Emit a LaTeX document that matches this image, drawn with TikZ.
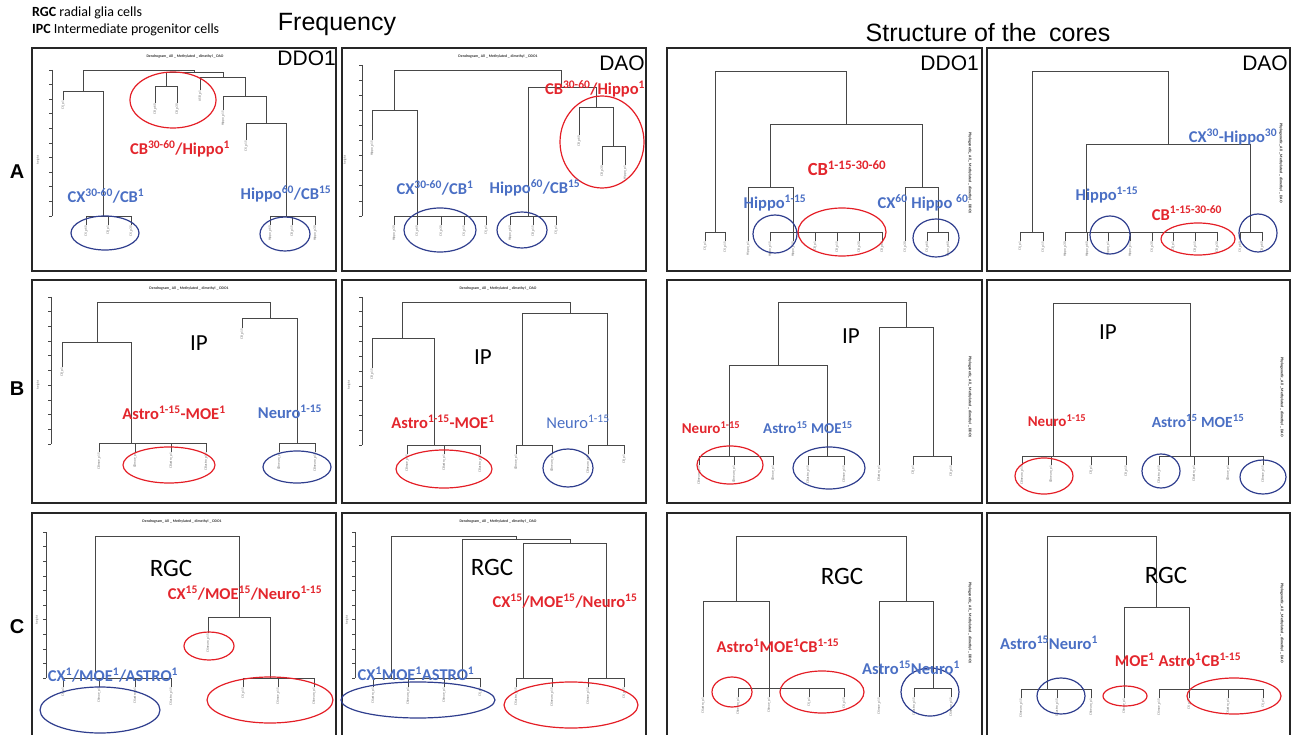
\documentclass[tikz,border=0pt]{standalone}
\usepackage{fontspec}
\setmainfont{Carlito}
\newfontfamily\arialf{Liberation Sans}
\definecolor{labred}{HTML}{E3262D}
\definecolor{labblue}{HTML}{4A6FC4}
\definecolor{ellred}{HTML}{E41E26}
\definecolor{ellblue}{HTML}{2F3E8E}
\newcommand\sps[1]{\textsuperscript{#1}}
\newcommand\stubs[2]{\foreach \xx in {#2} {\draw[dend] (\xx,#1)--(\xx,#1+9);}}
\newcommand\leaves[2]{\foreach \xx/\tt in {#2} {\node[leaflab] (lf\xx) at (\xx,#1) {\tt};}}
\tikzset{
 dend/.style={draw=black!72, line width=0.6pt},
 panel/.style={draw=black!85, line width=1.2pt},
 redell/.style={draw=ellred, line width=1.2pt},
 blueell/.style={draw=ellblue, line width=1.2pt},
 lab/.style={font=\bfseries\fontsize{16.5}{18}\selectfont, inner sep=0pt},
 rlab/.style={lab, text=labred},
 blab/.style={lab, text=labblue},
 biglab/.style={font=\fontsize{25}{28}\selectfont, inner sep=0pt},
 ttl/.style={font=\arialf\fontsize{21}{24}\selectfont, inner sep=0pt},
 rowlab/.style={font=\arialf\bfseries\fontsize{20}{22}\selectfont, inner sep=0pt},
 leaflab/.style={rotate=90, anchor=east, font=\fontsize{3.4}{4}\selectfont, text=black!60, inner sep=0.6pt},
 dtitle/.style={font=\bfseries\fontsize{3.8}{4}\selectfont, text=black!80, inner sep=0pt},
 vtitle/.style={rotate=-90, font=\bfseries\fontsize{3.9}{4}\selectfont, text=black!85, inner sep=0pt},
 htlab/.style={rotate=90, font=\fontsize{3.2}{4}\selectfont, text=black!60, inner sep=0pt},
}
\begin{document}
\begin{tikzpicture}[x=1pt,y=-1pt]
\useasboundingbox (0,0) rectangle (1291,735);
% header
\node[anchor=west, font=\fontsize{14}{16}\selectfont, inner sep=0pt] (h1) at (32,13) {\textbf{RGC} radial glia cells};
\node[anchor=west, font=\fontsize{14}{16}\selectfont, inner sep=0pt] (h2) at (32,30) {\textbf{IPC} Intermediate progenitor cells};
\node[font=\arialf\fontsize{25}{28}\selectfont, inner sep=0pt] (freq) at (337,24) {Frequency};
\node[font=\arialf\fontsize{25}{28}\selectfont, inner sep=0pt] (struct) at (988,33) {Structure of the\hspace{0.5em}cores};
\node[rowlab] (rA) at (17,172) {A};
\node[rowlab] (rB) at (17,389) {B};
\node[rowlab] (rC) at (17,627) {C};
% panel frames
\draw[panel] (32,48) rectangle (336,271);
\draw[panel] (342,48) rectangle (646,271);
\draw[panel] (667,48) rectangle (982,271);
\draw[panel] (987,48) rectangle (1290,271);
\draw[panel] (32,280) rectangle (336,503);
\draw[panel] (342,280) rectangle (646,503);
\draw[panel] (667,280) rectangle (982,503);
\draw[panel] (987,280) rectangle (1290,503);
\draw[panel] (32,740) -- (32,513) -- (336,513) -- (336,740);
\draw[panel] (342,740) -- (342,513) -- (646,513) -- (646,740);
\draw[panel] (667,740) -- (667,513) -- (982,513) -- (982,740);
\draw[panel] (987,740) -- (987,513) -- (1290,513) -- (1290,740);
% panel names
\node[ttl, anchor=east] (nA1) at (336,58) {DDO1};
\node[ttl, anchor=east] (nA2) at (645,63) {DAO};
\node[ttl, anchor=east] (nA3) at (979,63) {DDO1};
\node[ttl, anchor=east] (nA4) at (1288,63) {DAO};
% ================= A1 =================
\node[dtitle] (tA1) at (185,56) {Dendrogram\_ All \_ Methylated \_ dimethyl \_ DAO};
\draw[dend] (52,70)--(52,216);
\foreach \i in {0,...,10} {\draw[dend] (52,70+\i*14.6)--++(-3,0);}
\node[htlab] (yA1) at (38,160) {height};
\draw[dend] (83,91)--(83,70)--(194,70)--(194,72);
\draw[dend] (166,86)--(166,72)--(223,72)--(223,77);
\draw[dend] (155,103)--(155,86)--(177,86)--(177,103);
\draw[dend] (200,90)--(200,77)--(245,77)--(245,96);
\draw[dend] (223,110)--(223,96)--(266,96)--(266,123);
\draw[dend] (246,140)--(246,123)--(286,123)--(286,216);
\draw[dend] (63,100)--(63,91)--(103,91)--(103,216);
\draw[dend] (86,216)--(131,216); \stubs{216}{86,108,131}
\draw[dend] (270,216)--(315,216); \stubs{216}{270,292,315}
\node[leaflab] (lA1a) at (63,100) {CX\_p1};
\node[leaflab] (lA1b) at (155,103) {CB\_p60};
\node[leaflab] (lA1c) at (177,103) {CB\_p30};
\node[leaflab] (lA1d) at (200,90) {ASB\_p1};
\node[leaflab] (lA1e) at (223,110) {Hippo\_p15};
\node[leaflab] (lA1f) at (246,140) {CX\_p15};
\leaves{225}{86/CX\_p60,108/CB\_p1,131/CX\_p30,270/Hippo\_p60,292/CB\_p15,315/Hippo\_p30}
\draw[redell] (173,100) ellipse [x radius=43, y radius=28];
\draw[blueell] (105,233) ellipse [x radius=34, y radius=17];
\draw[blueell] (285,234) ellipse [x radius=25, y radius=17];
\node[rlab] (A1r) at (180,149) {CB\sps{30-60}/Hippo\sps{1}};
\node[blab] (A1b1) at (106,196) {CX\sps{30-60}/CB\sps{1}};
\node[blab] (A1b2) at (286,194) {Hippo\sps{60}/CB\sps{15}};
% ================= A2 =================
\node[dtitle] (tA2) at (498,56) {Dendrogram\_ All \_ Methylated \_ dimethyl \_ DDO1};
\draw[dend] (362,65)--(362,216);
\foreach \i in {0,...,10} {\draw[dend] (362,65+\i*15.1)--++(-3,0);}
\node[htlab] (yA2) at (345,160) {height};
\draw[dend] (394,110)--(394,70)--(561,70)--(561,87);
\draw[dend] (372,140)--(372,110)--(417,110)--(417,216);
\draw[dend] (394,216)--(486,216); \stubs{216}{394,417,441,464,486}
\draw[dend] (528,216)--(528,87)--(596,87)--(596,107);
\draw[dend] (510,216)--(556,216); \stubs{216}{510,533,556}
\draw[dend] (579,135)--(579,107)--(613,107)--(613,146);
\draw[dend] (602,165)--(602,146)--(625,146)--(625,165);
\node[leaflab] (lA2a) at (372,140) {Hippo\_p15};
\node[leaflab] (lA2b) at (579,135) {CB\_p60};
\node[leaflab] (lA2c) at (602,165) {CB\_p30};
\node[leaflab] (lA2d) at (625,165) {Hippo\_p1};
\leaves{225}{394/Hippo\_p30,417/CX\_p60,441/CX\_p30,464/CX\_p15,486/CX\_p1,510/Hippo\_p60,533/CB\_p15,556/CX\_p1}
\draw[redell] (602,142) ellipse [x radius=42, y radius=46];
\draw[blueell] (440,230) ellipse [x radius=36, y radius=22];
\draw[blueell] (522,230) ellipse [x radius=25, y radius=18];
\node[rlab] (A2r) at (595,89) {CB\sps{30-60}/Hippo\sps{1}};
\node[blab] (A2b1) at (435,188) {CX\sps{30-60}/CB\sps{1}};
\node[blab] (A2b2) at (535,188) {Hippo\sps{60}/CB\sps{15}};
% ================= A3 =================
\node[vtitle] (vA3) at (970,173) {Phylogenetic\_ All \_ Methylated \_ dimethyl \_ DDO1};
\draw[dend] (715,232)--(715,71)--(846,71)--(846,124);
\draw[dend] (705,232)--(725,232); \stubs{232}{705,725}
\draw[dend] (770,187)--(770,124)--(922,124)--(922,187);
\draw[dend] (748,241)--(748,187)--(793,187)--(793,232);
\draw[dend] (770,232)--(882,232); \stubs{232}{770,793,815,837,859,882}
\draw[dend] (905,241)--(905,187)--(938,187)--(938,232);
\draw[dend] (927,232)--(948,232); \stubs{232}{927,948}
\leaves{241}{705/CX\_p1,725/CX\_p15,748/Hippo\_p1,770/Hippo\_p15,793/Hippo\_p30,815/CB\_p1,837/CB\_p15,859/CB\_p30,882/CB\_p60,905/CX\_p30,927/CX\_p60,948/Hippo\_p60}
\draw[blueell] (775,234) ellipse [x radius=22, y radius=19];
\draw[redell] (842,232) ellipse [x radius=44, y radius=24];
\draw[blueell] (936,238) ellipse [x radius=23, y radius=19];
\node[rlab, font=\bfseries\fontsize{18.5}{20}\selectfont] (A3r) at (847,168) {CB\sps{1-15-30-60}};
\node[blab] (A3b1) at (775,203) {Hippo\sps{1-15}};
\node[blab] (A3b2) at (923,203) {CX\sps{60} Hippo \sps{60}};
% ================= A4 =================
\node[vtitle] (vA4) at (1281,163) {Phylogenetic\_ All \_ Methylated \_ dimethyl \_ DAO};
\draw[dend] (1032,232)--(1032,71)--(1168,71)--(1168,144);
\draw[dend] (1020,232)--(1043,232); \stubs{232}{1020,1043}
\draw[dend] (1086,232)--(1086,144)--(1250,144)--(1250,232);
\draw[dend] (1065,232)--(1217,232); \stubs{232}{1065,1087,1108,1130,1152,1173,1195,1217}
\draw[dend] (1240,232)--(1262,232); \stubs{232}{1240,1262}
\leaves{241}{1020/CX\_p1,1043/CX\_p15,1065/Hippo\_p30,1087/Hippo\_p60,1108/Hippo\_p1,1130/Hippo\_p15,1152/CX\_p30,1173/CB\_p1,1195/CB\_p15,1217/CB\_p30,1240/CX\_p60,1262/CB\_p60}
\draw[blueell] (1110,235) ellipse [x radius=20, y radius=19];
\draw[redell] (1198,239) ellipse [x radius=37, y radius=16];
\draw[blueell] (1258,233) ellipse [x radius=19, y radius=19];
\node[blab] (A4b1) at (1233,137) {CX\sps{30}-Hippo\sps{30}};
\node[blab] (A4b2) at (1107,195) {Hippo\sps{1-15}};
\node[rlab] (A4r) at (1187,213) {CB\sps{1-15-30-60}};
% ================= B1 =================
\node[dtitle] (tB1) at (189,288) {Dendrogram\_ All \_ Methylated \_ dimethyl \_ DDO1};
\draw[dend] (51,297)--(51,444);
\foreach \i in {0,...,10} {\draw[dend] (51,297+\i*14.7)--++(-3,0);}
\node[htlab] (yB1) at (38,385) {height};
\draw[dend] (97,342)--(97,302)--(270,302)--(270,318);
\draw[dend] (62,367)--(62,342)--(131,342)--(131,443);
\draw[dend] (99,443)--(206,443); \stubs{443}{99,135,171,206}
\draw[dend] (242,328)--(242,318)--(297,318)--(297,443);
\draw[dend] (279,443)--(315,443); \stubs{443}{279,315}
\node[leaflab] (lB1a) at (62,367) {CB\_p1};
\node[leaflab] (lB1b) at (242,328) {CB\_p15};
\leaves{452}{99/CBmoe\_p15,135/CBmoe\_p1,171/CBastro\_p1,206/CBastro\_p15,279/CBneuro\_p1,315/CBneuro\_p15}
\draw[redell] (169,465) ellipse [x radius=46, y radius=18];
\draw[blueell] (297,467) ellipse [x radius=34, y radius=16];
\node[biglab, font=\fontsize{23}{26}\selectfont] (B1ip) at (199,343) {IP};
\node[rlab] (B1r) at (174,413) {Astro\sps{1-15}-MOE\sps{1}};
\node[blab] (B1b) at (290,412) {Neuro\sps{1-15}};
% ================= B2 =================
\node[dtitle] (tB2) at (498,288) {Dendrogram\_ All \_ Methylated \_ dimethyl \_ DAO};
\draw[dend] (362,297)--(362,445);
\foreach \i in {0,...,10} {\draw[dend] (362,297+\i*14.8)--++(-3,0);}
\node[htlab] (yB2) at (349,385) {height};
\draw[dend] (402,338)--(402,302)--(570,302)--(570,313);
\draw[dend] (372,368)--(372,338)--(434,338)--(434,445);
\draw[dend] (407,445)--(480,445); \stubs{445}{407,444,480}
\draw[dend] (522,445)--(522,313)--(607,313)--(607,445);
\draw[dend] (516,445)--(552,445); \stubs{445}{516,552}
\draw[dend] (588,445)--(624,445); \stubs{445}{588,624}
\node[leaflab] (lB2a) at (372,368) {CB\_p15};
\leaves{454}{407/CBmoe\_p15,444/CBastro\_p1,480/CBastro\_p15,516/CBmoe\_p1,552/CBneuro\_p1,588/CBneuro\_p15,624/CB\_p1}
\draw[redell] (444,469) ellipse [x radius=48, y radius=19];
\draw[blueell] (568,468) ellipse [x radius=25, y radius=19];
\node[biglab, font=\fontsize{23}{26}\selectfont] (B2ip) at (483,357) {IP};
\node[rlab] (B2r) at (443,422) {Astro\sps{1-15}-MOE\sps{1}};
\node[blab, font=\fontsize{16.5}{18}\selectfont] (B2b) at (578,422) {Neuro\sps{1-15}};
% ================= B3 =================
\node[vtitle] (vB3) at (970,397) {Phylogenetic\_ All \_ Methylated \_ dimethyl \_ DDO1};
\draw[dend] (778,365)--(778,302)--(906,302)--(906,327);
\draw[dend] (729,456)--(729,365)--(827,365)--(827,456);
\draw[dend] (699,456)--(773,456); \stubs{456}{699,734,773}
\draw[dend] (808,456)--(844,456); \stubs{456}{808,844}
\draw[dend] (879,465)--(879,327)--(933,327)--(933,456);
\draw[dend] (913,456)--(951,456); \stubs{456}{913,951}
\leaves{465}{699/CBneuro\_p15,734/CBneuro\_p1,773/CBmoe\_p1,808/CBastro\_p15,844/CBmoe\_p15,879/CBastro\_p1,913/CB\_p1,951/CB\_p15}
\draw[redell] (730,465) ellipse [x radius=33, y radius=19];
\draw[blueell] (829,468) ellipse [x radius=36, y radius=21];
\node[biglab, font=\fontsize{23}{26}\selectfont] (B3ip) at (851,336) {IP};
\node[rlab, font=\bfseries\fontsize{15}{17}\selectfont] (B3r) at (711,428) {Neuro\sps{1-15}};
\node[blab, font=\bfseries\fontsize{15}{17}\selectfont] (B3b) at (808,428) {Astro\sps{15} MOE\sps{15}};
% ================= B4 =================
\node[vtitle] (vB4) at (1282,397) {Phylogenetic\_ All \_ Methylated \_ dimethyl \_ DAO};
\draw[dend] (1053,456)--(1053,303)--(1190,303)--(1190,456);
\draw[dend] (1022,456)--(1126,456); \stubs{456}{1022,1051,1091,1126}
\draw[dend] (1159,456)--(1263,456); \stubs{456}{1159,1194,1228,1263}
\leaves{465}{1022/CBneuro\_p15,1051/CBneuro\_p1,1091/CB\_p1,1126/CB\_p15,1159/CBastro\_p15,1194/CBastro\_p1,1228/CBmoe\_p1,1263/CBmoe\_p15}
\draw[redell] (1044,476) ellipse [x radius=29, y radius=18];
\draw[blueell] (1161,471) ellipse [x radius=19, y radius=17];
\draw[blueell] (1263,477) ellipse [x radius=23, y radius=17];
\node[biglab, font=\fontsize{23}{26}\selectfont] (B4ip) at (1108,332) {IP};
\node[rlab, font=\bfseries\fontsize{15}{17}\selectfont] (B4r) at (1057,421) {Neuro\sps{1-15}};
\node[blab, font=\bfseries\fontsize{15.5}{17}\selectfont] (B4b) at (1198,421) {Astro\sps{15} MOE\sps{15}};
% ================= C1 =================
\node[dtitle] (tC1) at (182,521) {Dendrogram\_ All \_ Methylated \_ dimethyl \_ DDO1};
\draw[dend] (46,532)--(46,678);
\foreach \i in {0,...,10} {\draw[dend] (46,532+\i*14.6)--++(-3,0);}
\node[htlab] (yC1) at (37,620) {height};
\draw[dend] (95,678)--(95,536)--(239,536)--(239,617);
\draw[dend] (63,678)--(171,678); \stubs{678}{63,99,135,171}
\draw[dend] (208,633)--(208,617)--(270,617)--(270,678);
\draw[dend] (243,678)--(314,678); \stubs{678}{243,278,314}
\node[leaflab] (lC1a) at (208,633) {CXneuro\_p15};
\leaves{687}{63/CX\_p1,99/CXmoe\_p1,135/CXastro\_p1,171/CXastro\_p15,243/CX\_p15,278/CXmoe\_p15,314/CXneuro\_p1}
\draw[blueell] (100,710) ellipse [x radius=60, y radius=23];
\draw[redell] (209,646) ellipse [x radius=25, y radius=14];
\draw[redell] (270,700) ellipse [x radius=63, y radius=23];
\node[biglab] (C1rgc) at (171,568) {RGC};
\node[rlab] (C1r) at (245,593) {CX\sps{15}/MOE\sps{15}/Neuro\sps{1-15}};
\node[blab] (C1b) at (113,675) {CX\sps{1}/MOE\sps{1}/ASTRO\sps{1}};
% ================= C2 =================
\node[dtitle] (tC2) at (498,521) {Dendrogram\_ All \_ Methylated \_ dimethyl \_ DAO};
\draw[dend] (355,532)--(355,678);
\foreach \i in {0,...,10} {\draw[dend] (355,532+\i*14.6)--++(-3,0);}
\node[htlab] (yC2) at (347,620) {height};
\draw[dend] (391,678)--(391,536)--(516,536)--(516,539);
\draw[dend] (462,678)--(462,539)--(570,539)--(570,543);
\draw[dend] (523,678)--(523,543)--(606,543)--(606,678);
\draw[dend] (373,678)--(480,678); \stubs{678}{373,408,444,480}
\draw[dend] (516,678)--(552,678); \stubs{678}{516,552}
\draw[dend] (588,678)--(624,678); \stubs{678}{588,624}
\leaves{687}{373/CXastro\_p1,408/CXneuro\_p1,444/CXmoe\_p1,480/CX\_p1,516/CXastro\_p15,552/CXneuro\_p15,588/CXmoe\_p15,624/CX\_p15}
\draw[blueell] (418,700) ellipse [x radius=77, y radius=18];
\draw[redell] (571,705) ellipse [x radius=67, y radius=23];
\node[biglab] (C2rgc) at (492,567) {RGC};
\node[rlab] (C2r) at (565,601) {CX\sps{15}/MOE\sps{15}/Neuro\sps{15}};
\node[blab] (C2b) at (416,674) {CX\sps{1}MOE\sps{1}ASTRO\sps{1}};
% ================= C3 =================
\node[vtitle] (vC3) at (970,623) {Phylogenetic\_ All \_ Methylated \_ dimethyl \_ DDO1};
\draw[dend] (736,601)--(736,536)--(906,536)--(906,601);
\draw[dend] (703,697)--(703,601)--(769,601)--(769,688);
\draw[dend] (738,688)--(844,688); \stubs{688}{738,769,809,844}
\draw[dend] (879,697)--(879,601)--(933,601)--(933,688);
\draw[dend] (914,688)--(951,688); \stubs{688}{914,951}
\leaves{697}{703/CXastro\_p1,738/CXneuro\_p1,769/CXmoe\_p1,809/CX\_p1,844/CX\_p15,879/CXmoe\_p15,914/CXastro\_p15,951/CXneuro\_p15}
\draw[redell] (732,692) ellipse [x radius=20, y radius=15];
\draw[redell] (822,692) ellipse [x radius=42, y radius=21];
\draw[blueell] (930,692) ellipse [x radius=29, y radius=24];
\node[biglab] (C3rgc) at (842,576) {RGC};
\node[rlab] (C3r) at (778,646) {Astro\sps{1}MOE\sps{1}CB\sps{1-15}};
\node[blab] (C3b) at (911,668) {Astro\sps{15}Neuro\sps{1}};
% ================= C4 =================
\node[vtitle] (vC4) at (1282,623) {Phylogenetic\_ All \_ Methylated \_ dimethyl \_ DAO};
\draw[dend] (1047,689)--(1047,536)--(1156,536)--(1156,607);
\draw[dend] (1021,689)--(1091,689); \stubs{689}{1021,1057,1091}
\draw[dend] (1124,698)--(1124,607)--(1189,607)--(1189,689);
\draw[dend] (1159,689)--(1263,689); \stubs{689}{1159,1189,1228,1263}
\leaves{698}{1021/CXneuro\_p15,1057/CXastro\_p15,1091/CXneuro\_p1,1124/CXmoe\_p1,1159/CXmoe\_p15,1189/CX\_p15,1228/CXastro\_p1,1263/CX\_p1}
\draw[blueell] (1061,696) ellipse [x radius=24, y radius=18];
\draw[redell] (1125,696) ellipse [x radius=22, y radius=10];
\draw[redell] (1234,696) ellipse [x radius=47, y radius=18];
\node[biglab] (C4rgc) at (1166,575) {RGC};
\node[blab] (C4b) at (1049,643) {Astro\sps{15}Neuro\sps{1}};
\node[rlab] (C4r) at (1178,660) {MOE\sps{1} Astro\sps{1}CB\sps{1-15}};
\end{tikzpicture}
\end{document}
